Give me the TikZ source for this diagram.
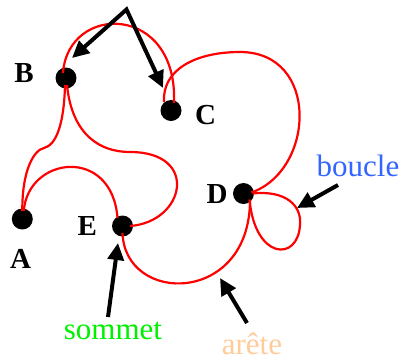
\documentclass[tikz,border=0pt]{standalone}
\usepackage{fontspec}
\setmainfont{Liberation Serif}
\usetikzlibrary{arrows.meta}
\definecolor{bouclecol}{RGB}{51,102,255}
\definecolor{sommetcol}{RGB}{0,240,0}
\definecolor{aretecol}{RGB}{255,204,153}
\begin{document}
\begin{tikzpicture}[x=1pt,y=-1pt,
  vertex/.style={circle,fill=black,inner sep=0pt,minimum size=21pt},
  vlabel/.style={font=\fontsize{29}{29}\selectfont\bfseries,inner sep=0pt,anchor=base},
  tlabel/.style={font=\fontsize{31}{31}\selectfont,inner sep=0pt,anchor=base},
  redline/.style={draw=red,line width=2.2pt},
  pointer/.style={draw=black,line width=4pt,line join=miter,-{Triangle[length=17pt,width=16pt]}}]
\useasboundingbox (0,0) rectangle (402,360);
% vertices
\node[vertex] (B) at (66,78) {};
\node[vertex] (C) at (171,110.5) {};
\node[vertex] (A) at (22.3,219) {};
\node[vertex] (E) at (122.5,226) {};
\node[vertex] (D) at (243.5,193.5) {};
% vertex labels
\node[vlabel] (lB) at (24,82) {B};
\node[vlabel] (lC) at (205.5,124.5) {C};
\node[vlabel] (lD) at (217,203) {D};
\node[vlabel] (lE) at (87.3,235) {E};
\node[vlabel] (lA) at (20.5,268) {A};
% edges
\draw[redline] ([shift={(-3,-5)}]B.center) .. controls (68,3) and (178,3) .. ([shift={(3,-7.5)}]C.center);
\draw[redline] ([shift={(-7,-8.5)}]C.center) .. controls (162,70) and (195,52) .. (240,52) .. controls (320,52) and (315,170) .. ([shift={(8,-1)}]D.center);
\draw[redline] ([shift={(-1,7)}]B.center) .. controls (64,125) and (56,145) .. (44,148) .. controls (34,150) and (22,170) .. ([shift={(0,-8)}]A.center);
\draw[redline] ([shift={(1.5,-8)}]A.center) .. controls (28,156) and (112,146) .. ([shift={(-5,-8)}]E.center);
\draw[redline] ([shift={(1,7)}]B.center) .. controls (72,135) and (100,152) .. (130,152) .. controls (200,152) and (185,222) .. ([shift={(7.5,0)}]E.center);
\draw[redline] ([shift={(0,7)}]E.center) .. controls (125,305) and (250,305) .. ([shift={(6.5,6.5)}]D.center);
\draw[redline] ([shift={(9,0)}]D.center) .. controls (285,190) and (302,205) .. (300,225) .. controls (298,262) and (255,260) .. ([shift={(6,6)}]D.center);
% text labels
\node[tlabel,text=bouclecol] (lboucle) at (358,176.7) {boucle};
\node[tlabel,text=sommetcol] (lsommet) at (113,339.3) {sommet};
\node[tlabel,text=aretecol] (larete) at (252,354) {arête};
% pointers
\coordinate (apex) at (126.5,9.5);
\coordinate (tipB) at (72,58);
\coordinate (tipC) at (163,88);
\draw[pointer,{Triangle[length=17pt,width=16pt]}-{Triangle[length=17pt,width=16pt]}] (tipB) -- (apex) -- (tipC);
\coordinate (sommettail) at (108,317);
\draw[pointer] (sommettail) -- ([shift={(-4.5,17)}]E.center);
\coordinate (aretetail) at (247,323);
\coordinate (aretetip) at (220,278);
\draw[pointer] (aretetail) -- (aretetip);
\coordinate (boucletail) at (338,185);
\coordinate (boucletip) at (297,208);
\draw[pointer] (boucletail) -- (boucletip);
\end{tikzpicture}
\end{document}
